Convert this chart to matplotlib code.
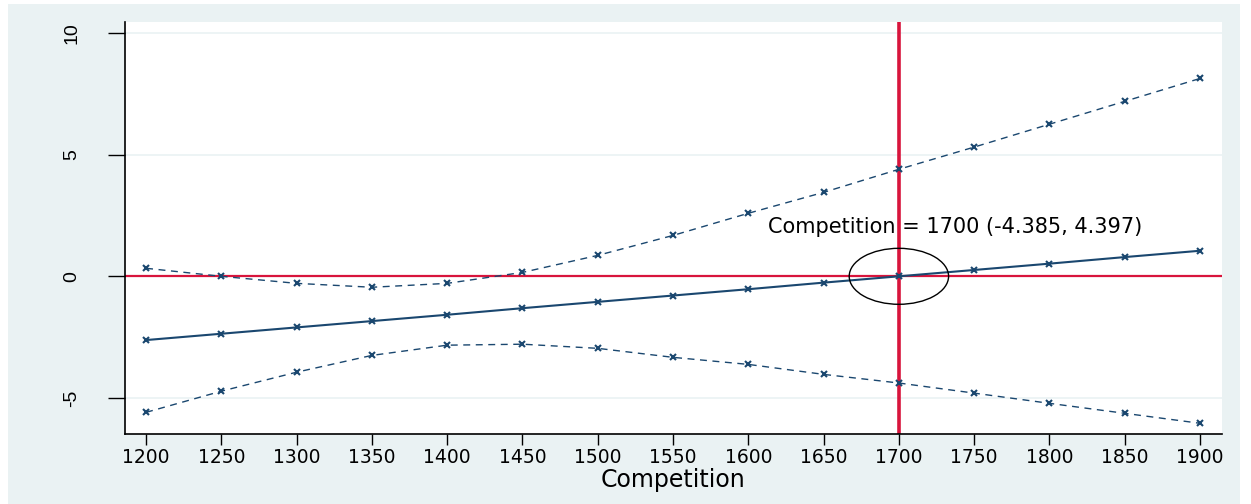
import numpy as np
import matplotlib.pyplot as plt
from matplotlib.patches import Ellipse, Rectangle

plt.rcParams['font.family'] = ['DejaVu Sans']
plt.rcParams['axes.unicode_minus'] = False

competition = [1200, 1250, 1300, 1350, 1400, 1450, 1500, 1550, 1600,
               1650, 1700, 1750, 1800, 1850, 1900]
effect = [-2.62, -2.36, -2.10, -1.84, -1.58, -1.31, -1.05, -0.79, -0.53,
          -0.26, 0.0, 0.26, 0.52, 0.79, 1.05]
upper_ci = [0.33, 0.0, -0.29, -0.45, -0.29, 0.16, 0.86, 1.68, 2.59,
            3.45, 4.397, 5.31, 6.25, 7.19, 8.13]
lower_ci = [-5.59, -4.72, -3.94, -3.25, -2.83, -2.79, -2.96, -3.33, -3.62,
            -4.03, -4.385, -4.80, -5.22, -5.63, -6.04]

x_ticks = list(range(1200, 1901, 50))
y_ticks = [-5, 0, 5, 10]
ref_x = 1700
label = "Competition = 1700 (-4.385, 4.397)"

navy = "#1a476f"
red = "#d8143c"
bg = "#eaf2f3"

fig = plt.figure(figsize=(12.51, 5.04), dpi=100)
fig.patch.set_facecolor("white")
fig.patches.append(Rectangle((8 / 1251, 0), 1232 / 1251, 500 / 504,
                             transform=fig.transFigure, facecolor=bg,
                             edgecolor="none", zorder=-10))

ax = fig.add_axes([125 / 1251, 1 - 434 / 504, (1222 - 125) / 1251, (434 - 22) / 504])
ax.set_facecolor("white")

for yt in y_ticks:
    ax.axhline(yt, color=bg, lw=1.2, zorder=0)

ax.axhline(0, color=red, lw=1.6, zorder=1)
ax.axvline(ref_x, color=red, lw=2.6, zorder=1)

ax.plot(competition, upper_ci, color=navy, lw=1.0, ls=(0, (5, 4)),
        marker="x", ms=4, mew=1.5, zorder=3)
ax.plot(competition, lower_ci, color=navy, lw=1.0, ls=(0, (5, 4)),
        marker="x", ms=4, mew=1.5, zorder=3)
ax.plot(competition, effect, color=navy, lw=1.5,
        marker="x", ms=4, mew=1.5, zorder=3)

ax.add_patch(Ellipse((ref_x, 0), 66, 2.3, fill=False, ec="black", lw=1.0, zorder=4))
ax.text(1613, 1.8, label, ha="left", va="baseline", fontsize=15, zorder=5)

ax.set_xlim(1186, 1914.6)
ax.set_ylim(-6.48, 10.45)
ax.set_xticks(x_ticks)
ax.set_yticks(y_ticks)
ax.tick_params(axis="x", length=8, width=1, labelsize=13.5, pad=2)
ax.tick_params(axis="y", length=12, width=1, pad=20)
for t in ax.get_yticklabels():
    t.set_rotation(90)
    t.set_va("center")
    t.set_fontfamily(["Liberation Sans", "DejaVu Sans"])
    t.set_fontsize(14)
ax.set_xlabel("Competition", fontsize=17, labelpad=1)

for side in ("top", "right"):
    ax.spines[side].set_visible(False)
ax.spines["left"].set_linewidth(1.2)
ax.spines["bottom"].set_linewidth(1.2)

fig.savefig("out.png", dpi=100)
